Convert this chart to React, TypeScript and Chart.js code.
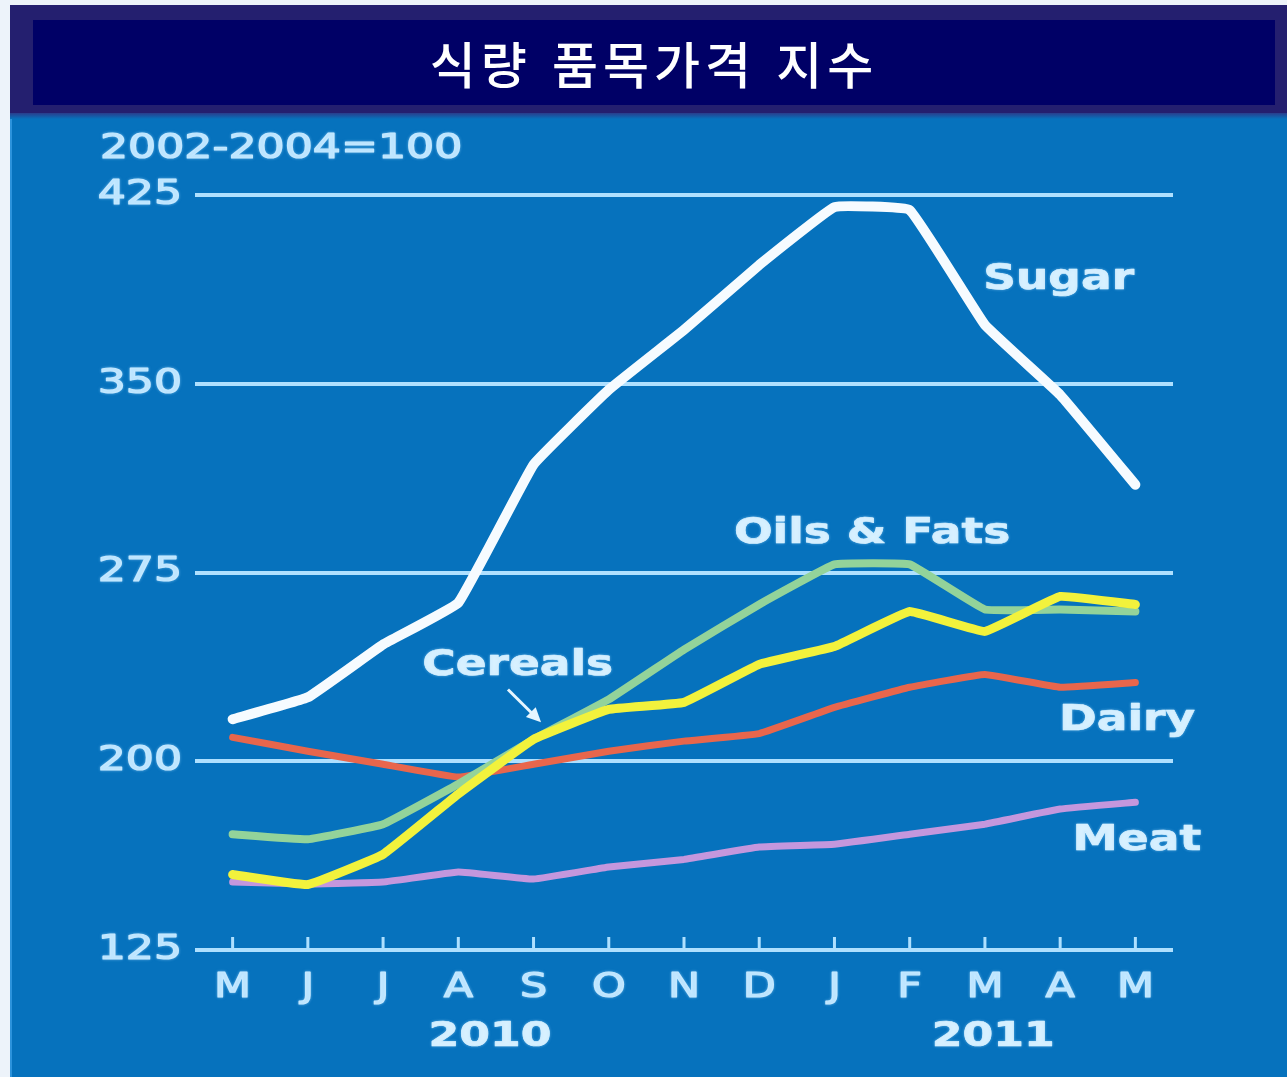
import React, { useEffect, useRef } from "react";
import { Chart, registerables } from "chart.js";

Chart.register(...registerables);

const TITLE = "식량 품목가격 지수";
const UNIT_NOTE = "2002-2004=100";
const MONTHS = ["M", "J", "J", "A", "S", "O", "N", "D", "J", "F", "M", "A", "M"];
const YEARS = ["2010", "2011"];
const YEAR_CENTERS = [3.42, 10.11];
const Y_TICKS = [125, 200, 275, 350, 425];

const SUGAR = [216.7, 225.4, 246.4, 263, 317.9, 347.6, 371.4, 397.2, 420.2, 419, 373.4, 345.6, 309.9];
const OILS = [171, 169, 175, 191, 208.7, 224.6, 244.4, 262.3, 278.2, 278.2, 260.3, 260.3, 259.5];
const CEREALS = [155, 151, 163, 187, 208.7, 220.6, 223.4, 238.5, 245.6, 259.5, 251.6, 265.5, 262.3];
const DAIRY = [209.5, 204, 198.8, 193.7, 198.8, 204, 208, 211, 221.4, 229.4, 234.5, 229.4, 231.3];
const MEAT = [152, 151.2, 152, 156, 153.2, 158, 161, 165.9, 167, 171, 175, 181, 183.7];

const SERIES_NAMES = ["Sugar", "Cereals", "Oils & Fats", "Dairy", "Meat"];
// label anchors in data coordinates: [category index, value]
const LABEL_ANCHORS: [number, number][] = [
  [10.98, 391.2],
  [3.79, 238.0],
  [8.5, 290.2],
  [11.89, 216.2],
  [12.02, 168.5],
];
const ARROW_FROM: [number, number] = [3.66, 228.5];
const ARROW_TO: [number, number] = [4.1, 215.5];

const TEXT_COLOR = "#c4e8ff";
const LABEL_COLOR = "#d8f1ff";
const GRID_COLOR = "#aee0ff";
const SX = 1.3;

function drawText(
  ctx: CanvasRenderingContext2D,
  text: string,
  x: number,
  y: number,
  font: string,
  align: CanvasTextAlign,
  color: string,
  thicken: number
) {
  ctx.save();
  ctx.translate(x, y);
  ctx.scale(SX, 1);
  ctx.font = font;
  ctx.textAlign = align;
  ctx.textBaseline = "middle";
  ctx.fillStyle = color;
  ctx.strokeStyle = color;
  ctx.lineJoin = "round";
  ctx.shadowColor = "rgba(160,220,255,0.5)";
  ctx.shadowBlur = 3;
  ctx.fillText(text, 0, 0);
  if (thicken > 0) {
    ctx.lineWidth = thicken;
    ctx.strokeText(text, 0, 0);
  }
  ctx.restore();
}

const decorPlugin = {
  id: "decor",
  afterDraw(chart: any) {
    const ctx: CanvasRenderingContext2D = chart.ctx;
    const xs = chart.scales.x;
    const ys = chart.scales.y;
    const area = chart.chartArea;
    const px = (i: number) => xs.getPixelForValue(i);
    const py = (v: number) => ys.getPixelForValue(v);

    // tick marks on baseline
    ctx.save();
    ctx.strokeStyle = GRID_COLOR;
    ctx.lineWidth = 3;
    MONTHS.forEach((_, i) => {
      const x = px(i);
      ctx.beginPath();
      ctx.moveTo(x, area.bottom);
      ctx.lineTo(x, area.bottom - 13);
      ctx.stroke();
    });
    ctx.restore();

    // y tick labels
    Y_TICKS.forEach((v) => {
      drawText(ctx, String(v), area.left - 13, py(v), "34px 'DejaVu Sans'", "right", TEXT_COLOR, 1.2);
    });
    drawText(ctx, UNIT_NOTE, 100, py(425) - 46, "34px 'DejaVu Sans'", "left", TEXT_COLOR, 1.2);

    // month labels
    MONTHS.forEach((m, i) => {
      drawText(ctx, m, px(i), area.bottom + 38, "33px 'DejaVu Sans'", "center", TEXT_COLOR, 1.2);
    });
    YEARS.forEach((y, i) => {
      drawText(ctx, y, px(YEAR_CENTERS[i]), area.bottom + 87, "bold 34px 'DejaVu Sans'", "center", LABEL_COLOR, 0.6);
    });

    // series labels
    SERIES_NAMES.forEach((name, i) => {
      const [ix, v] = LABEL_ANCHORS[i];
      drawText(ctx, name, px(ix), py(v), "bold 35px 'DejaVu Sans'", "center", LABEL_COLOR, 0.6);
    });

    // arrow for Cereals
    const x1 = px(ARROW_FROM[0]);
    const y1 = py(ARROW_FROM[1]);
    const x2 = px(ARROW_TO[0]);
    const y2 = py(ARROW_TO[1]);
    const ang = Math.atan2(y2 - y1, x2 - x1);
    ctx.save();
    ctx.strokeStyle = "#e6f6ff";
    ctx.fillStyle = "#e6f6ff";
    ctx.lineWidth = 3;
    ctx.beginPath();
    ctx.moveTo(x1, y1);
    ctx.lineTo(x2 - 10 * Math.cos(ang), y2 - 10 * Math.sin(ang));
    ctx.stroke();
    ctx.beginPath();
    ctx.moveTo(x2, y2);
    ctx.lineTo(x2 - 16 * Math.cos(ang - 0.45), y2 - 16 * Math.sin(ang - 0.45));
    ctx.lineTo(x2 - 16 * Math.cos(ang + 0.45), y2 - 16 * Math.sin(ang + 0.45));
    ctx.closePath();
    ctx.fill();
    ctx.restore();
  },
};

export default function App() {
  const canvasRef = useRef<HTMLCanvasElement | null>(null);

  useEffect(() => {
    if (!canvasRef.current) return;
    const mk = (label: string, data: number[], color: string, width: number) => ({
      label,
      data,
      borderColor: color,
      backgroundColor: color,
      borderWidth: width,
      pointRadius: 0,
      fill: false,
      tension: 0.08,
      borderJoinStyle: "round" as const,
      borderCapStyle: "round" as const,
      clip: false as any,
    });
    const chart = new Chart(canvasRef.current, {
      type: "line",
      data: {
        labels: MONTHS,
        datasets: [
          mk("Sugar", SUGAR, "#f6fbff", 10),
          mk("Cereals", CEREALS, "#f2f23c", 9),
          mk("Oils & Fats", OILS, "#93d39a", 8),
          mk("Dairy", DAIRY, "#e8664c", 7),
          mk("Meat", MEAT, "#c497dd", 7),
        ],
      },
      options: {
        responsive: false,
        animation: false,
        events: [],
        layout: { padding: { left: 195, right: 114, top: 195, bottom: 127 } },
        plugins: { legend: { display: false }, tooltip: { enabled: false }, title: { display: false } },
        scales: {
          x: {
            type: "category",
            offset: true,
            grid: { display: false, drawTicks: false },
            ticks: { display: false },
            border: { display: false },
          },
          y: {
            type: "linear",
            min: 125,
            max: 425,
            afterBuildTicks: (s: any) => {
              s.ticks = Y_TICKS.map((v) => ({ value: v }));
            },
            grid: { color: GRID_COLOR, lineWidth: 4, drawTicks: false },
            ticks: { display: false },
            border: { display: false },
          },
        },
      },
      plugins: [decorPlugin],
    });
    return () => chart.destroy();
  }, []);

  return (
    <div
      style={{
        position: "absolute",
        left: 0,
        top: 0,
        width: 1287,
        height: 1077,
        background: "#edf3fa",
        overflow: "hidden",
      }}
    >
      <div
        style={{
          position: "absolute",
          left: 10,
          top: 5,
          width: 1277,
          height: 1072,
          background: "#0672bd",
          borderLeft: "2px solid #2c93dc",
          boxSizing: "border-box",
        }}
      />
      <div
        style={{
          position: "absolute",
          left: 10,
          top: 5,
          width: 1277,
          height: 108,
          background: "#241f6f",
        }}
      />
      <div
        style={{
          position: "absolute",
          left: 10,
          top: 113,
          width: 1277,
          height: 6,
          background: "linear-gradient(#2a3d8c, #0672bd)",
        }}
      />
      <div
        style={{
          position: "absolute",
          left: 33,
          top: 20,
          width: 1242,
          height: 85,
          background: "#000066",
          color: "#ffffff",
          fontFamily: "'Noto Sans CJK KR', sans-serif",
          fontSize: 50,
          fontWeight: 500,
          lineHeight: "85px",
          textAlign: "center",
          letterSpacing: 5,
          wordSpacing: 4,
          whiteSpace: "nowrap",
        }}
      >
        {TITLE}
      </div>
      <canvas
        ref={canvasRef}
        width={1287}
        height={1077}
        style={{ position: "absolute", left: 0, top: 0, width: 1287, height: 1077 }}
      />
    </div>
  );
}
